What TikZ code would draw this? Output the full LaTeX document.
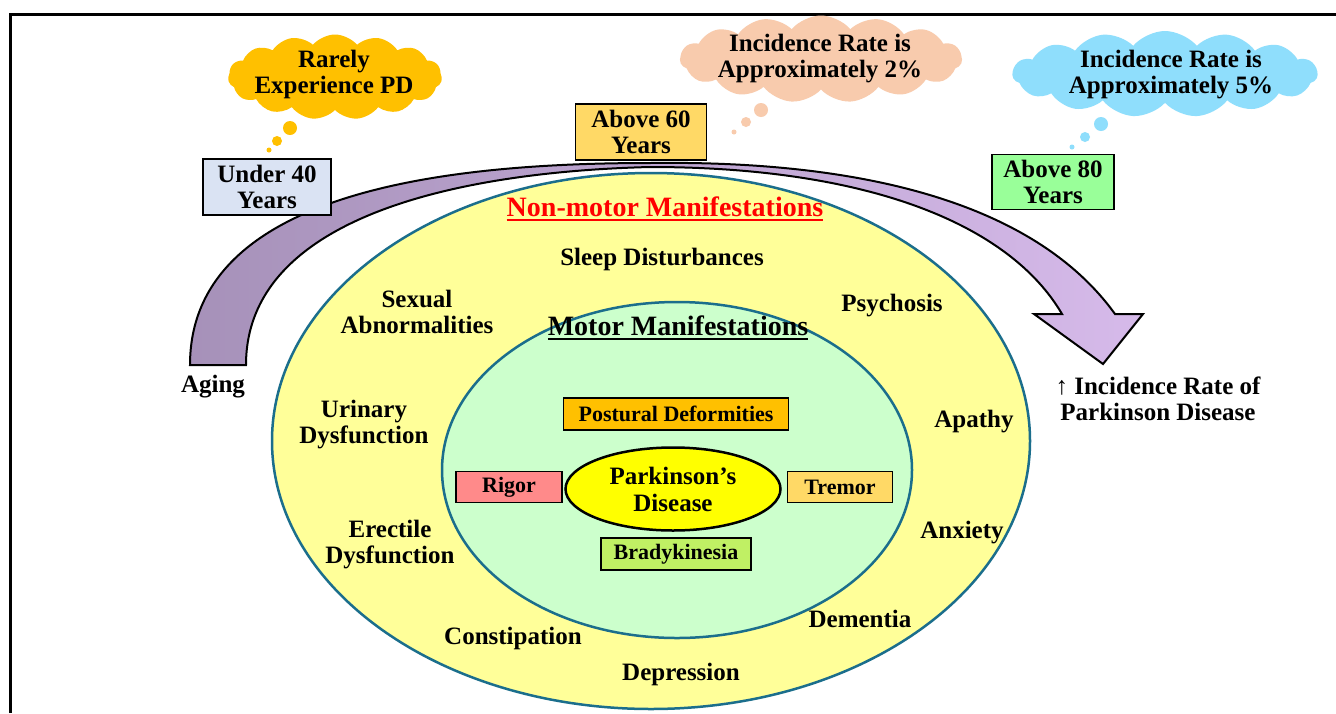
\documentclass[tikz,border=0pt]{standalone}
\usepackage{fontspec}
\setmainfont{Liberation Serif}
\usetikzlibrary{shapes.symbols,shapes.geometric}
\definecolor{ring}{RGB}{27,110,140}
\definecolor{outerfill}{RGB}{255,255,153}
\definecolor{innerfill}{RGB}{204,255,204}
\definecolor{pdfill}{RGB}{255,255,0}
\definecolor{cOrange}{RGB}{255,192,0}
\definecolor{cPeach}{RGB}{248,203,173}
\definecolor{cSky}{RGB}{143,222,252}
\definecolor{bBlue}{RGB}{218,227,243}
\definecolor{bGold}{RGB}{255,217,102}
\definecolor{bGreen}{RGB}{153,255,153}
\definecolor{bOrange}{RGB}{255,192,0}
\definecolor{bRed}{RGB}{255,138,138}
\definecolor{bLime}{RGB}{192,240,100}
\definecolor{arrL}{RGB}{166,145,185}
\definecolor{arrR}{RGB}{214,186,234}
\newcommand{\myul}[1]{\setbox0\hbox{#1}\rlap{\raisebox{-4pt}{\rule{\wd0}{2pt}}}\box0}
\tikzset{
  lbl/.style={font=\fontsize{25}{26}\selectfont\bfseries, align=center, inner sep=0pt, yshift=-2pt},
  titlelbl/.style={font=\fontsize{28}{30}\selectfont\bfseries, align=center, inner sep=0pt, yshift=-1pt},
  agebox/.style={draw=black, line width=1.8pt, rectangle, inner sep=0pt, font=\fontsize{25}{26}\selectfont\bfseries, align=center},
  motorbox/.style={draw=black, line width=1.8pt, rectangle, inner sep=0pt, font=\fontsize{22}{24}\selectfont\bfseries, align=center},
  thought/.style={cloud, cloud puffs=15, cloud puff arc=100, aspect=2.8, draw=none, inner sep=0pt},
  bubble/.style={circle, draw=none, inner sep=0pt}
}
\begin{document}
\begin{tikzpicture}[x=1pt,y=-1pt]
\useasboundingbox[fill=white] (0,0) rectangle (1336,713);
% frame
\draw[line width=3pt] (10,713) -- (10,14) -- (1336,14);

% ellipses
\node[ellipse, draw=ring, line width=2.5pt, fill=outerfill, minimum width=758pt, minimum height=536pt] (outer) at (651,441) {};
\node[ellipse, draw=ring, line width=2.5pt, fill=innerfill, minimum width=470pt, minimum height=336pt] (inner) at (677,470) {};
\node[ellipse, draw=black, line width=2.5pt, fill=pdfill, minimum width=215pt, minimum height=83pt, font=\fontsize{25}{27}\selectfont\bfseries, align=center, inner sep=0pt] (pd) at (673,489) {Parkinson’s\\Disease};

% curved arrow
\path[draw=black, line width=2pt, left color=arrL, right color=arrR]
  (190,365) .. controls (190,190) and (450,163) .. (650,163)
  .. controls (880,160) and (1040,210) .. (1115,314)
  -- (1143,314) -- (1103,364) -- (1034,314) -- (1062,314)
  .. controls (1010,225) and (870,167) .. (650,167)
  .. controls (450,172) and (246,220) .. (246,365) -- cycle;

% clouds
\node[thought, fill=cOrange, minimum width=214pt, minimum height=85pt] (cloudA) at (335,77) {};
\node[thought, fill=cPeach, minimum width=282pt, minimum height=87pt] (cloudB) at (821,59) {};
\node[thought, fill=cSky, minimum width=305pt, minimum height=86pt] (cloudC) at (1165,74) {};
\node[lbl] (tA) at (334,72) {Rarely\\Experience PD};
\node[lbl] (tB) at (820,57) {Incidence Rate is\\Approximately 2\%};
\node[lbl] (tC) at (1171,73) {Incidence Rate is\\Approximately 5\%};

% thought bubbles
\node[bubble, fill=cOrange, minimum size=14pt] (a1) at (290,128) {};
\node[bubble, fill=cOrange, minimum size=10pt] (a2) at (277,141) {};
\node[bubble, fill=cOrange, minimum size=5pt] (a3) at (269,150) {};
\node[bubble, fill=cPeach, minimum size=14pt] (b1) at (761,110) {};
\node[bubble, fill=cPeach, minimum size=10pt] (b2) at (746,122) {};
\node[bubble, fill=cPeach, minimum size=5pt] (b3) at (734,132) {};
\node[bubble, fill=cSky, minimum size=14pt] (c1) at (1101,124) {};
\node[bubble, fill=cSky, minimum size=10pt] (c2) at (1085,137) {};
\node[bubble, fill=cSky, minimum size=5pt] (c3) at (1072,147) {};

% age boxes
\node[agebox, fill=bBlue, minimum width=128pt, minimum height=56pt] (u40) at (267,187) {Under 40\\Years};
\node[agebox, fill=bGold, minimum width=131pt, minimum height=56pt] (a60) at (641,132) {Above 60\\Years};
\node[agebox, fill=bGreen, minimum width=122pt, minimum height=55pt] (a80) at (1053,182) {Above 80\\Years};

% side labels
\node[lbl] (aging) at (213,385) {Aging};
\node[lbl] (incid) at (1158,397) {↑ Incidence Rate of\\Parkinson Disease};

% non-motor
\node[titlelbl, text=red] (nonmotor) at (665,208) {\myul{Non-motor Manifestations}};
\node[lbl] (sleep) at (662,257) {Sleep Disturbances};
\node[lbl] (sexual) at (417,310) {Sexual\\Abnormalities};
\node[lbl] (psych) at (892,304) {Psychosis};
\node[lbl] (urin) at (364,423) {Urinary\\Dysfunction};
\node[lbl] (apathy) at (974,420) {Apathy};
\node[lbl] (erect) at (390,543) {Erectile\\Dysfunction};
\node[lbl] (anx) at (962,531) {Anxiety};
\node[lbl] (dem) at (860,617) {Dementia};
\node[lbl] (const) at (513,636) {Constipation};
\node[lbl] (depr) at (681,672) {Depression};

% motor
\node[titlelbl] (motor) at (678,327) {\myul{Motor Manifestations}};
\node[motorbox, fill=bOrange, minimum width=225pt, minimum height=32pt] (post) at (676,414) {Postural Deformities};
\node[motorbox, fill=bRed, minimum width=106pt, minimum height=31pt] (rigor) at (509,487) {Rigor};
\node[motorbox, fill=bGold, minimum width=105pt, minimum height=31pt] (tremor) at (840,487) {Tremor};
\node[motorbox, fill=bLime, minimum width=150pt, minimum height=32pt] (brady) at (676,554) {Bradykinesia};
\end{tikzpicture}
\end{document}
